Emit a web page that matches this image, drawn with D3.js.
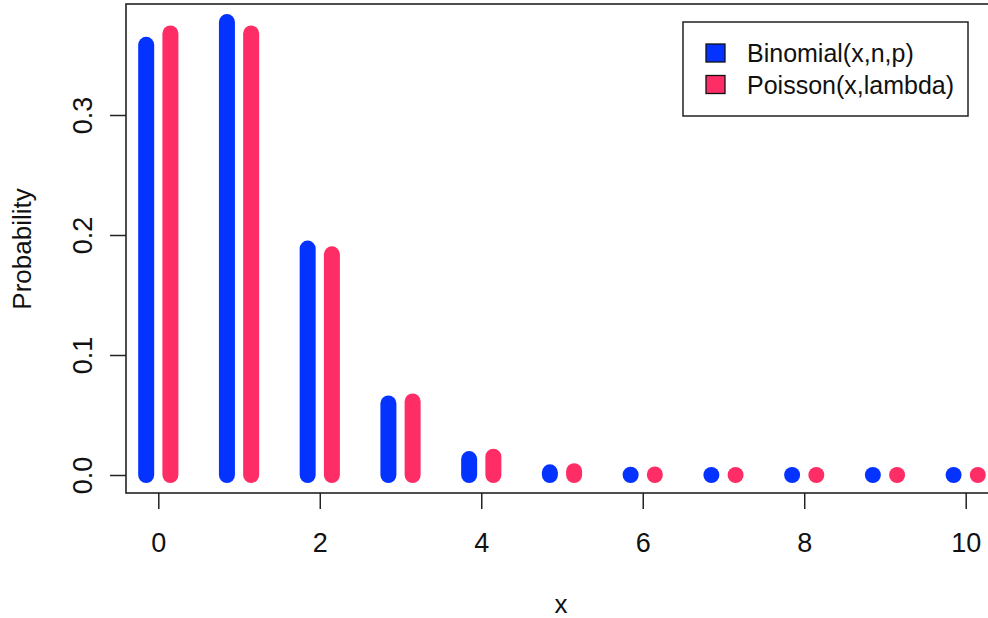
<!DOCTYPE html>
<html>
<head>
<meta charset="utf-8">
<script src="https://cdn.jsdelivr.net/npm/d3@7/dist/d3.min.js"></script>
<style>
  html, body { margin: 0; padding: 0; background: #fff; }
  svg { display: block; font-family: "Liberation Sans", Arial, Helvetica, sans-serif; }
</style>
</head>
<body>
<svg id="chart" width="988" height="618"></svg>
<script>
// ---- data ----
const xValues = [0, 1, 2, 3, 4, 5, 6, 7, 8, 9, 10];
const binomialValues = [0.3585, 0.3774, 0.1887, 0.0596, 0.0133, 0.0022, 0.0003, 0.00003, 0.000003, 0.0000002, 0.00000001];
const poissonValues  = [0.3679, 0.3679, 0.1839, 0.0613, 0.0153, 0.0031, 0.0005, 0.00007, 0.000009, 0.000001, 0.0000001];
const xTicks = [0, 2, 4, 6, 8, 10];
const yTicks = [0, 0.1, 0.2, 0.3];
const seriesNames = ["Binomial(x,n,p)", "Poisson(x,lambda)"];
const seriesColors = ["#0433FF", "#FF2D66"];
const xLabel = "x";
const yLabel = "Probability";

// ---- layout ----
const W = 988, H = 618;
const frame = { left: 126, top: 4, bottom: 493, right: 998 };
const svg = d3.select("#chart");

const x = d3.scaleLinear().domain([-0.4, 10.4]).range([frame.left, frame.right]);
const y = d3.scaleLinear().domain([0, 0.3]).range([475, 115]);

const offset = 0.15;
const barWidth = 16;

// bars (type = "h" style with round caps)
const series = [binomialValues, poissonValues];
series.forEach((vals, si) => {
  const dx = si === 0 ? -offset : offset;
  svg.append("g")
    .selectAll("line")
    .data(xValues.map((xv, i) => ({ x: xv, v: vals[i] })))
    .join("line")
    .attr("x1", d => x(d.x + dx))
    .attr("x2", d => x(d.x + dx))
    .attr("y1", y(0))
    .attr("y2", d => y(d.v))
    .attr("stroke", seriesColors[si])
    .attr("stroke-width", barWidth)
    .attr("stroke-linecap", "round");
});

// frame box
svg.append("rect")
  .attr("x", frame.left).attr("y", frame.top)
  .attr("width", frame.right - frame.left)
  .attr("height", frame.bottom - frame.top)
  .attr("fill", "none").attr("stroke", "#222").attr("stroke-width", 1.6);

// y axis
const yAxis = svg.append("g")
  .attr("transform", `translate(${frame.left},0)`)
  .call(d3.axisLeft(y).tickValues(yTicks).tickSize(16).tickFormat(d3.format(".1f")));
yAxis.select(".domain").remove();
yAxis.selectAll(".tick line").attr("stroke", "#222").attr("stroke-width", 1.5);
yAxis.selectAll(".tick text")
  .attr("x", 0).attr("dy", 0)
  .attr("transform", "translate(-34,0) rotate(-90)")
  .attr("text-anchor", "middle")
  .attr("fill", "#111")
  .style("font-size", "27px");

// x axis
const xAxis = svg.append("g")
  .attr("transform", `translate(0,${frame.bottom})`)
  .call(d3.axisBottom(x).tickValues(xTicks).tickSize(16).tickFormat(d3.format("d")));
xAxis.select(".domain").remove();
xAxis.selectAll(".tick line").attr("stroke", "#222").attr("stroke-width", 1.5);
xAxis.selectAll(".tick text")
  .attr("y", 59).attr("dy", 0)
  .attr("text-anchor", "middle")
  .attr("fill", "#111")
  .style("font-size", "27px");

// axis titles
svg.append("text")
  .attr("x", 561).attr("y", 613)
  .attr("text-anchor", "middle")
  .attr("fill", "#111")
  .style("font-size", "26px")
  .text(xLabel);

svg.append("text")
  .attr("transform", "translate(31,249) rotate(-90)")
  .attr("text-anchor", "middle")
  .attr("fill", "#111")
  .style("font-size", "26px")
  .text(yLabel);

// legend
const legend = svg.append("g");
legend.append("rect")
  .attr("x", 683).attr("y", 22)
  .attr("width", 285).attr("height", 94)
  .attr("fill", "#fff").attr("stroke", "#222").attr("stroke-width", 1.5);
const legendRows = [53, 84.5];
seriesNames.forEach((name, i) => {
  legend.append("rect")
    .attr("x", 706).attr("y", legendRows[i] - 9)
    .attr("width", 19).attr("height", 18)
    .attr("fill", seriesColors[i])
    .attr("stroke", "#111").attr("stroke-width", 1.3);
  legend.append("text")
    .attr("x", 747).attr("y", legendRows[i] + 9)
    .attr("fill", "#111")
    .style("font-size", "25px")
    .text(name);
});
</script>
</body>
</html>
